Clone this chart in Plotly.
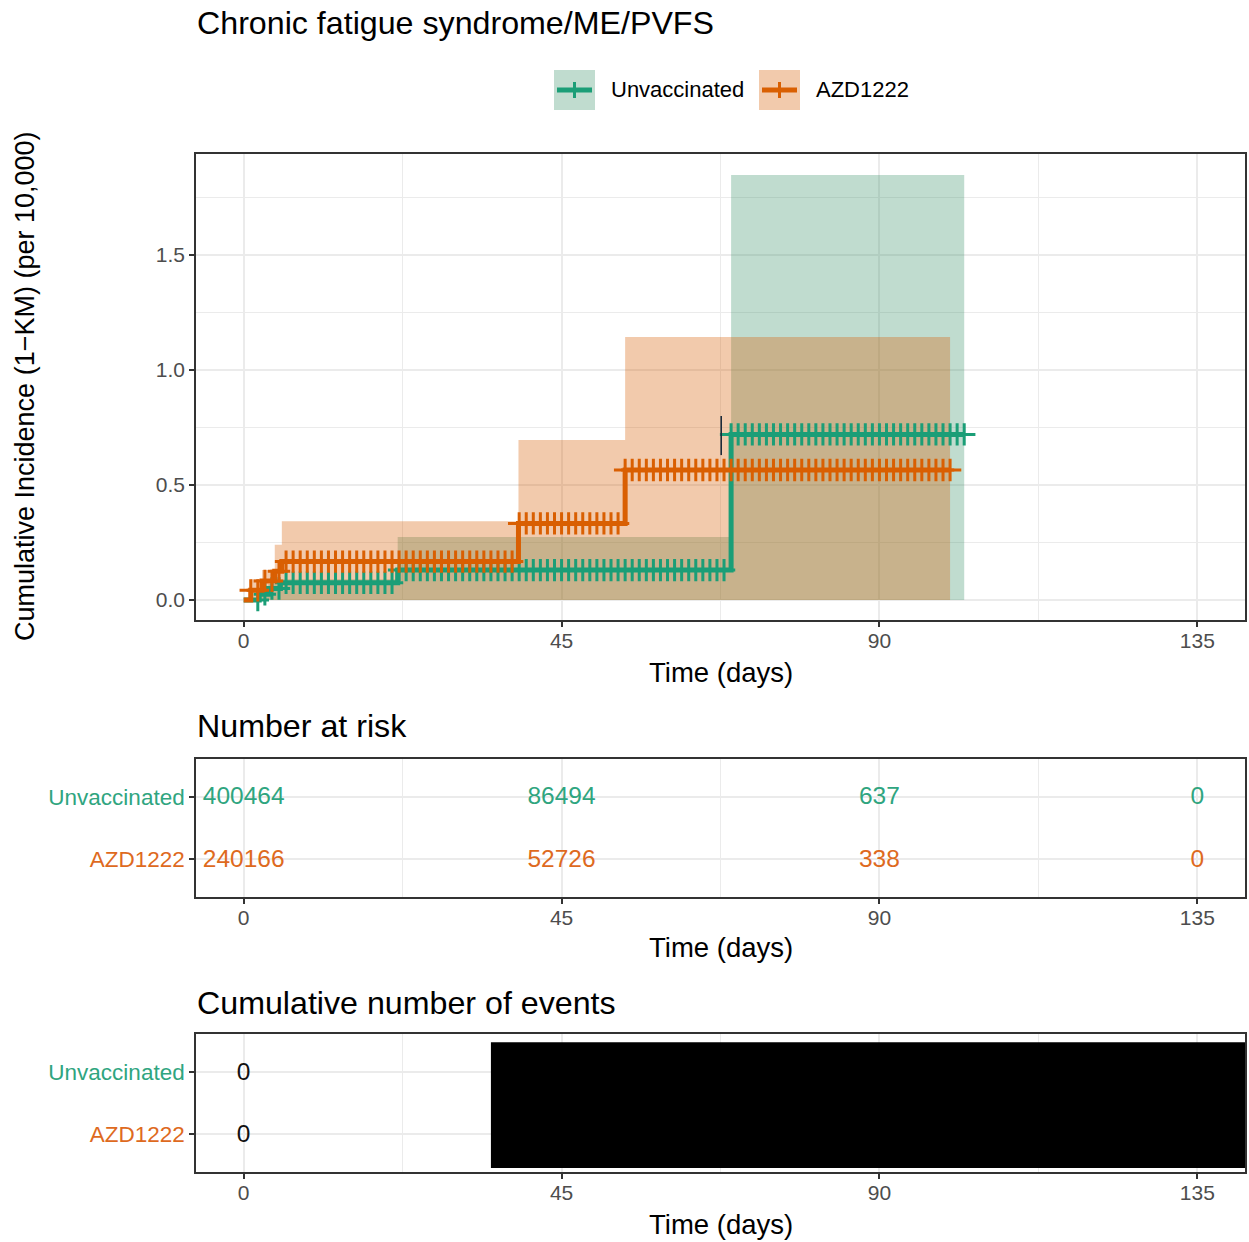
import numpy as np
import plotly.graph_objects as go

# ---------------- data ----------------
green_t = [0, 2.2, 3.5, 5.2, 21.8, 69.0]
green_y = [0, 0.025, 0.05, 0.075, 0.13, 0.72]
green_up = [0, 0.05, 0.07, 0.09, 0.274, 1.848]
green_end = 102
green_censor = list(range(2, 103))

azd_t = [0, 1.0, 2.6, 4.4, 5.4, 38.9, 54.0]
azd_y = [0, 0.042, 0.083, 0.125, 0.167, 0.333, 0.565]
azd_up = [0, 0.09, 0.13, 0.24, 0.342, 0.696, 1.143]
azd_end = 100
azd_censor = list(range(1, 101))

mark_x = [67.6, 67.6]
mark_y = [0.63, 0.80]

groups = ["Unvaccinated", "AZD1222"]
risk_times = [0, 45, 90, 135]
risk_unvacc = [400464, 86494, 637, 0]
risk_azd = [240166, 52726, 338, 0]
event_times = [0]
events_unvacc = [0]
events_azd = [0]
redact_x = [35, 141.8]
redact_y = [0.465, 2.47]

x_ticks = [0, 45, 90, 135]
y_ticks = [0, 0.5, 1.0, 1.5]
y_ticktext = ["0.0", "0.5", "1.0", "1.5"]

# ---------------- style ----------------
W, H = 1249, 1242
GREEN = "#1B9E77"
ORANGE = "#D95F02"
GREEN_TXT = "#2FA57F"
ORANGE_TXT = "#DE6A1E"
GREEN_FILL = "rgba(48,138,95,0.3)"
ORANGE_FILL = "rgba(217,95,2,0.33)"
FONT = "Liberation Sans, Arial, sans-serif"
GRID = "#EBEBEB"
XR = [-6.75, 141.75]


def pxx(x):
    return x / W


def pxy(y):
    return 1 - y / H


def step_val(ts, ys, d):
    i = int(np.searchsorted(np.array(ts), d, side="right")) - 1
    return ys[max(i, 0)]


fig = go.Figure()

# ribbons (green under orange)
fig.add_trace(go.Scatter(x=green_t + [green_end], y=green_up + [green_up[-1]], mode="lines",
                         line=dict(shape="hv", width=0, color=GREEN_FILL), fill="tozeroy",
                         fillcolor=GREEN_FILL, hoverinfo="skip", showlegend=False, xaxis="x", yaxis="y"))
fig.add_trace(go.Scatter(x=azd_t + [azd_end], y=azd_up + [azd_up[-1]], mode="lines",
                         line=dict(shape="hv", width=0, color=ORANGE_FILL), fill="tozeroy",
                         fillcolor=ORANGE_FILL, hoverinfo="skip", showlegend=False, xaxis="x", yaxis="y"))

# step lines
for ts, ys, end, cens, col in [(green_t, green_y, green_end, green_censor, GREEN),
                               (azd_t, azd_y, azd_end, azd_censor, ORANGE)]:
    fig.add_trace(go.Scatter(x=ts + [end], y=ys + [ys[-1]], mode="lines",
                             line=dict(shape="hv", width=5, color=col), showlegend=False,
                             xaxis="x", yaxis="y"))
    cy = [step_val(ts, ys, d) for d in cens]
    fig.add_trace(go.Scatter(x=cens, y=cy, mode="markers",
                             marker=dict(symbol="cross-thin", size=16, line=dict(width=3, color=col)),
                             showlegend=False, xaxis="x", yaxis="y"))

fig.add_trace(go.Scatter(x=mark_x, y=mark_y, mode="lines", line=dict(color="#1c2b3a", width=1.6),
                         showlegend=False, xaxis="x", yaxis="y"))

# risk table
fig.add_trace(go.Scatter(x=risk_times, y=[1.98] * len(risk_times), mode="text",
                         text=[str(v) for v in risk_unvacc], textfont=dict(size=24.5, color=GREEN_TXT, family=FONT),
                         showlegend=False, xaxis="x2", yaxis="y2"))
fig.add_trace(go.Scatter(x=risk_times, y=[0.98] * len(risk_times), mode="text",
                         text=[str(v) for v in risk_azd], textfont=dict(size=24.5, color=ORANGE_TXT, family=FONT),
                         showlegend=False, xaxis="x2", yaxis="y2"))

# events table
fig.add_trace(go.Scatter(x=event_times, y=[1.97] * len(event_times), mode="text",
                         text=[str(v) for v in events_unvacc], textfont=dict(size=24.5, color="#111111", family=FONT),
                         showlegend=False, xaxis="x3", yaxis="y3"))
fig.add_trace(go.Scatter(x=event_times, y=[0.97] * len(event_times), mode="text",
                         text=[str(v) for v in events_azd], textfont=dict(size=24.5, color="#111111", family=FONT),
                         showlegend=False, xaxis="x3", yaxis="y3"))
fig.add_trace(go.Scatter(x=[redact_x[0], redact_x[1], redact_x[1], redact_x[0], redact_x[0]],
                         y=[redact_y[0], redact_y[0], redact_y[1], redact_y[1], redact_y[0]],
                         mode="lines", fill="toself", fillcolor="black", line=dict(width=0, color="black"),
                         showlegend=False, xaxis="x3", yaxis="y3"))

XDOM = [pxx(196), pxx(1245)]
common_x = dict(range=XR, tickvals=x_ticks, ticktext=[str(v) for v in x_ticks], ticks="outside", ticklen=5,
                tickwidth=1.6, tickcolor="#333333", tickfont=dict(size=21, color="#4D4D4D", family=FONT),
                ticklabelstandoff=-4,
                showgrid=True, gridcolor=GRID, gridwidth=1.8, zeroline=False, showline=True, mirror=True,
                linecolor="#333333", linewidth=1.6, domain=XDOM,
                minor=dict(tickvals=[22.5, 67.5, 112.5], showgrid=True, gridcolor=GRID, gridwidth=1.0, ticks=""))

ylab = [f"<span style='color:{ORANGE_TXT}'>AZD1222</span>", f"<span style='color:{GREEN_TXT}'>Unvaccinated</span>"]
common_tab_y = dict(range=[0.4, 2.6], tickvals=[1, 2], ticktext=ylab, ticks="outside", ticklen=5, tickwidth=1.6,
                    tickcolor="#333333", tickfont=dict(size=22.5, family=FONT), showgrid=True, gridcolor=GRID,
                    gridwidth=1.8, zeroline=False, showline=True, mirror=True, linecolor="#333333", linewidth=1.6)

fig.update_layout(
    width=W, height=H, margin=dict(l=0, r=0, t=0, b=0), paper_bgcolor="white", plot_bgcolor="white",
    font=dict(family=FONT),
    xaxis=dict(common_x, anchor="y"),
    yaxis=dict(range=[-0.0870, 1.9391], tickvals=y_ticks, ticktext=y_ticktext, ticks="outside", ticklen=5,
               tickwidth=1.6, tickcolor="#333333", tickfont=dict(size=21, color="#4D4D4D", family=FONT),
               showgrid=True, gridcolor=GRID, gridwidth=1.8, zeroline=False, showline=True, mirror=True,
               linecolor="#333333", linewidth=1.6, domain=[pxy(620), pxy(154)], anchor="x",
               minor=dict(tickvals=[0.25, 0.75, 1.25, 1.75], showgrid=True, gridcolor=GRID, gridwidth=1.0, ticks="")),
    xaxis2=dict(common_x, anchor="y2"),
    yaxis2=dict(common_tab_y, domain=[pxy(897), pxy(759)], anchor="x2"),
    xaxis3=dict(common_x, anchor="y3"),
    yaxis3=dict(common_tab_y, domain=[pxy(1172), pxy(1034)], anchor="x3"),
)

ann = []
ann.append(dict(text="Chronic fatigue syndrome/ME/PVFS", x=pxx(195), y=pxy(23), xanchor="left", yanchor="middle",
                font=dict(size=32.2, color="black", family=FONT)))
ann.append(dict(text="Number at risk", x=pxx(195), y=pxy(726), xanchor="left", yanchor="middle",
                font=dict(size=32.2, color="black", family=FONT)))
ann.append(dict(text="Cumulative number of events", x=pxx(195), y=pxy(1003), xanchor="left", yanchor="middle",
                font=dict(size=32.2, color="black", family=FONT)))
for yy in [672, 947, 1224]:
    ann.append(dict(text="Time (days)", x=pxx(721), y=pxy(yy), xanchor="center", yanchor="middle",
                    font=dict(size=27.5, color="black", family=FONT)))
ann.append(dict(text="Cumulative Incidence (1\u2212KM) (per 10,000)", x=pxx(25), y=pxy(386), textangle=-90,
                xanchor="center", yanchor="middle", font=dict(size=27, color="black", family=FONT)))
# legend labels
ann.append(dict(text="Unvaccinated", x=pxx(609), y=pxy(90), xanchor="left", yanchor="middle",
                font=dict(size=22, color="black", family=FONT)))
ann.append(dict(text="AZD1222", x=pxx(814), y=pxy(90), xanchor="left", yanchor="middle",
                font=dict(size=22, color="black", family=FONT)))
for a in ann:
    a.update(xref="paper", yref="paper", showarrow=False)
fig.update_layout(annotations=ann)

# manual legend keys
shapes = []
for x0, fillc, col in [(554, GREEN_FILL, GREEN), (759, ORANGE_FILL, ORANGE)]:
    shapes.append(dict(type="rect", xref="paper", yref="paper", x0=pxx(x0), x1=pxx(x0 + 41), y0=pxy(110),
                       y1=pxy(70), fillcolor=fillc, line=dict(width=0)))
    shapes.append(dict(type="line", xref="paper", yref="paper", x0=pxx(x0 + 3), x1=pxx(x0 + 38), y0=pxy(90),
                       y1=pxy(90), line=dict(color=col, width=5)))
    shapes.append(dict(type="line", xref="paper", yref="paper", x0=pxx(x0 + 20.5), x1=pxx(x0 + 20.5), y0=pxy(82),
                       y1=pxy(98), line=dict(color=col, width=3)))
fig.update_layout(shapes=shapes)

fig.write_html("out.html")
